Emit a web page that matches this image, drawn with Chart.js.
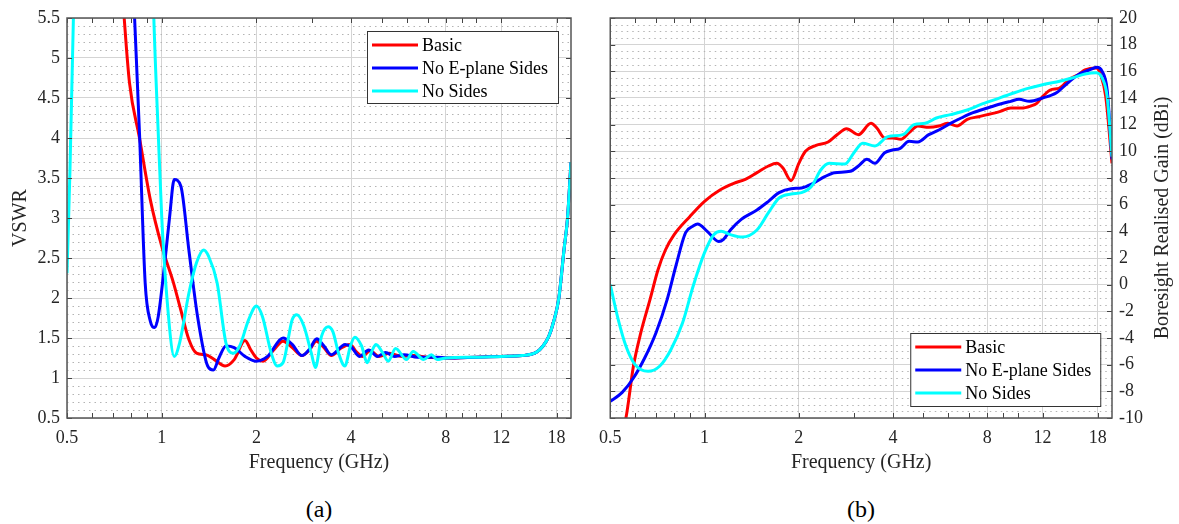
<!DOCTYPE html>
<html>
<head>
<meta charset="utf-8">
<script src="https://cdn.jsdelivr.net/npm/chart.js@4/dist/chart.umd.min.js"></script>
<style>
  body { margin: 0; background: #fff; width: 1179px; height: 524px; overflow: hidden; position: relative; font-family: "Liberation Serif", serif; }
  .panel { position: absolute; top: 0; }
  .cap { position: absolute; top: 496px; font: 24px "Liberation Serif", serif; color: #000; width: 100px; text-align: center; }
</style>
</head>
<body>
<div class="panel" style="left:0"><canvas id="vswr" width="590" height="480"></canvas></div>
<div class="panel" style="left:590px"><canvas id="gain" width="589" height="480"></canvas></div>
<div class="cap" style="left:269px">(a)</div>
<div class="cap" style="left:811px">(b)</div>
<script>
// ---- data ----
const seriesNames = ['Basic', 'No E-plane Sides', 'No Sides'];
const seriesColors = ['#ff0000', '#0000ff', '#00ffff'];
const xMajor = [0.5, 1, 2, 4, 8, 12, 18];
const xMinor = [0.6, 0.7, 0.8, 0.9, 3, 5, 6, 7, 9, 10];

// (a) VSWR
const basicF = [0.74, 0.76, 0.79, 0.85, 0.92, 1.0, 1.09, 1.15, 1.22, 1.29, 1.38, 1.47, 1.59, 1.70, 1.84, 1.92, 2.0, 2.1, 2.27, 2.43, 2.6, 2.79, 2.95, 3.1, 3.28, 3.46, 3.7, 3.97, 4.15, 4.35, 4.6, 4.9, 5.3, 5.8, 6.3, 7, 8, 10, 12, 14, 15.5, 16.3, 17, 17.6, 18.3, 19, 19.5, 20];
const basicV = [6.2, 5.5, 4.69, 4.0, 3.23, 2.65, 2.19, 1.85, 1.48, 1.31, 1.29, 1.23, 1.15, 1.23, 1.47, 1.35, 1.25, 1.21, 1.35, 1.46, 1.38, 1.28, 1.35, 1.46, 1.38, 1.28, 1.37, 1.42, 1.33, 1.27, 1.34, 1.27, 1.31, 1.27, 1.28, 1.26, 1.25, 1.26, 1.27, 1.28, 1.32, 1.4, 1.52, 1.7, 2.0, 2.6, 3.0, 3.7];

const eplaneF = [0.8, 0.82, 0.85, 0.886, 0.92, 0.95, 0.975, 1.02, 1.06, 1.096, 1.15, 1.22, 1.30, 1.40, 1.46, 1.52, 1.60, 1.70, 1.84, 2.0, 2.17, 2.43, 2.6, 2.79, 2.95, 3.11, 3.28, 3.46, 3.83, 4.0, 4.25, 4.55, 4.85, 5.15, 5.5, 5.9, 6.5, 7.5, 8, 10, 12, 14, 15.5, 16.3, 17, 17.6, 18.3, 19, 19.5, 20];
const eplaneV = [6.5, 5.5, 4.06, 2.19, 1.71, 1.63, 1.77, 2.4, 3.02, 3.48, 3.4, 2.6, 1.77, 1.15, 1.1, 1.25, 1.4, 1.38, 1.27, 1.21, 1.27, 1.5, 1.42, 1.28, 1.36, 1.49, 1.4, 1.29, 1.42, 1.39, 1.27, 1.35, 1.27, 1.32, 1.27, 1.29, 1.26, 1.26, 1.25, 1.26, 1.27, 1.28, 1.32, 1.4, 1.52, 1.7, 2.0, 2.6, 3.0, 3.7];

const nosidesF = [0.5, 0.511, 0.524, 0.53, 0.93, 0.944, 0.975, 1.0, 1.04, 1.096, 1.14, 1.22, 1.29, 1.36, 1.41, 1.50, 1.60, 1.69, 1.77, 1.89, 2.0, 2.09, 2.23, 2.33, 2.43, 2.6, 2.69, 2.83, 2.99, 3.08, 3.22, 3.38, 3.5, 3.65, 3.82, 3.98, 4.11, 4.32, 4.5, 4.65, 4.8, 5.05, 5.25, 5.54, 6.0, 6.3, 6.8, 7.2, 7.5, 8, 10, 12, 14, 15.5, 16.3, 17, 17.6, 18.3, 19, 19.5, 20];
const nosidesV = [2.31, 3.6, 5.5, 6.2, 6.5, 5.5, 4.06, 3.02, 1.98, 1.27, 1.44, 2.06, 2.44, 2.6, 2.52, 2.19, 1.44, 1.31, 1.4, 1.73, 1.9, 1.77, 1.31, 1.15, 1.19, 1.73, 1.79, 1.65, 1.31, 1.13, 1.52, 1.64, 1.58, 1.31, 1.15, 1.4, 1.51, 1.4, 1.19, 1.33, 1.42, 1.31, 1.21, 1.37, 1.23, 1.33, 1.23, 1.29, 1.23, 1.25, 1.26, 1.27, 1.28, 1.32, 1.4, 1.52, 1.7, 2.0, 2.6, 3.0, 3.7];

// (b) boresight realised gain
const gBasicF = [0.55, 0.561, 0.593, 0.626, 0.67, 0.71, 0.75, 0.80, 0.897, 1.0, 1.12, 1.24, 1.35, 1.47, 1.6, 1.7, 1.78, 1.89, 2.0, 2.1, 2.27, 2.48, 2.65, 2.84, 3.1, 3.4, 3.55, 3.76, 4.0, 4.23, 4.5, 4.8, 5.2, 5.6, 5.96, 6.4, 6.9, 7.5, 8.0, 8.8, 9.5, 10.3, 11.0, 11.5, 12, 12.7, 13.6, 14.6, 15.6, 16.4, 17.8, 18.4, 19.1, 20];
const gBasic = [-10.6, -10, -6.1, -3.6, -1.1, 1.1, 2.6, 3.75, 5.1, 6.25, 7.1, 7.6, 7.9, 8.4, 8.9, 9.1, 8.75, 7.8, 9.1, 10.0, 10.45, 10.7, 11.25, 11.7, 11.25, 12.1, 11.75, 11.0, 11.0, 10.9, 11.4, 11.9, 11.8, 11.9, 12.1, 11.9, 12.4, 12.6, 12.75, 13.0, 13.25, 13.25, 13.4, 13.6, 14.1, 14.6, 14.75, 15.4, 15.75, 16.1, 16.25, 15.75, 14.1, 9.1];

const gEplaneF = [0.5, 0.545, 0.593, 0.644, 0.7, 0.76, 0.81, 0.87, 0.92, 0.95, 1.02, 1.11, 1.15, 1.21, 1.31, 1.47, 1.6, 1.73, 1.89, 2.04, 2.22, 2.42, 2.6, 2.92, 3.1, 3.3, 3.5, 3.76, 3.98, 4.2, 4.5, 4.8, 5.2, 5.6, 6.1, 6.6, 7.2, 8.0, 8.8, 9.5, 10.1, 10.9, 12, 13.3, 14.4, 15.6, 16.9, 17.9, 18.6, 19.3, 20];
const gEplane = [-8.75, -8.1, -7.0, -5.5, -3.6, -1.1, 1.4, 3.9, 4.4, 4.55, 4.0, 3.24, 3.4, 4.1, 4.9, 5.6, 6.25, 6.9, 7.2, 7.25, 7.6, 8.1, 8.4, 8.5, 8.9, 9.4, 9.1, 9.9, 10.1, 10.2, 10.75, 10.7, 11.25, 11.6, 12.1, 12.5, 12.9, 13.25, 13.55, 13.75, 13.9, 13.75, 14.0, 14.4, 15.1, 15.75, 16.1, 16.3, 16.0, 14.6, 9.4];

const gNosidesF = [0.5, 0.53, 0.561, 0.6, 0.66, 0.72, 0.78, 0.85, 0.92, 1.0, 1.07, 1.13, 1.21, 1.32, 1.47, 1.6, 1.73, 1.89, 2.04, 2.2, 2.35, 2.5, 2.81, 3.0, 3.2, 3.5, 3.85, 4.3, 4.67, 5.06, 5.5, 6.1, 6.9, 7.6, 8.5, 9.5, 10.7, 12, 13.3, 14.9, 16.4, 17.8, 18.6, 19.3, 20];
const gNosides = [0, -2.6, -4.6, -6.0, -6.5, -6.1, -4.9, -2.9, -0.1, 2.4, 3.75, 4.0, 3.75, 3.57, 4.1, 5.4, 6.5, 6.8, 6.9, 7.4, 8.6, 9.1, 9.05, 9.9, 10.6, 10.4, 11.1, 11.25, 12.0, 12.1, 12.5, 12.75, 13.1, 13.5, 13.9, 14.3, 14.7, 15.0, 15.2, 15.5, 15.8, 15.9, 15.5, 14.1, 9.6];

// ---- helpers ----
const serif = '"Liberation Serif", "Times New Roman", serif';
Chart.defaults.font.family = serif;
Chart.defaults.font.size = 18;
Chart.defaults.color = '#262626';

function pts(f, v) {
  return f.map((x, i) => ({ x: x, y: v[i] }));
}

function makeSets(list) {
  return list.map((d, i) => ({
    label: seriesNames[i],
    data: pts(d[0], d[1]),
    borderColor: seriesColors[i],
    backgroundColor: seriesColors[i],
    borderWidth: 3,
    pointRadius: 0,
    cubicInterpolationMode: 'monotone',
    order: 3 - i
  }));
}

// matlab style: dotted minor grid, inward ticks, box, boxed legend, side title
const matlabLook = {
  id: 'matlab',
  beforeDatasetsDraw(chart, args, opts) {
    const { ctx, chartArea: a, scales: { y } } = chart;
    ctx.save();
    ctx.strokeStyle = '#b4b4b4';
    ctx.lineWidth = 1;
    ctx.setLineDash([1.5, 4]);
    const n = Math.round((y.max - y.min) / opts.yMinor);
    for (let k = 1; k < n; k++) {
      if (k % opts.minorPerMajor === 0) continue;
      const py = Math.round(y.getPixelForValue(y.min + k * opts.yMinor)) + 0.5;
      ctx.beginPath();
      ctx.moveTo(a.left, py);
      ctx.lineTo(a.right, py);
      ctx.stroke();
    }
    ctx.restore();
  },
  afterDraw(chart, args, opts) {
    const { ctx, chartArea: a, scales: { x, y } } = chart;
    ctx.save();
    ctx.strokeStyle = '#444';
    ctx.lineWidth = 1;
    // tick marks pointing inwards
    xMajor.concat(xMinor).forEach(v => {
      const px = Math.round(x.getPixelForValue(v)) + 0.5;
      ctx.beginPath();
      ctx.moveTo(px, a.bottom); ctx.lineTo(px, a.bottom - 5);
      ctx.moveTo(px, a.top); ctx.lineTo(px, a.top + 5);
      ctx.stroke();
    });
    y.ticks.forEach(t => {
      const py = Math.round(y.getPixelForValue(t.value)) + 0.5;
      ctx.beginPath();
      ctx.moveTo(a.left, py); ctx.lineTo(a.left + 5, py);
      ctx.moveTo(a.right, py); ctx.lineTo(a.right - 5, py);
      ctx.stroke();
    });
    // box
    ctx.strokeStyle = '#555';
    ctx.lineWidth = 1.5;
    ctx.strokeRect(a.left, a.top, a.right - a.left, a.bottom - a.top);

    // legend
    const L = opts.legend;
    const bx = a.left + L.dx, by = a.top + L.dy;
    ctx.fillStyle = '#fff';
    ctx.fillRect(bx, by, L.w, L.h);
    ctx.strokeStyle = '#333';
    ctx.lineWidth = 1;
    ctx.strokeRect(bx + 0.5, by + 0.5, L.w, L.h);
    ctx.font = '18px ' + serif;
    ctx.textBaseline = 'middle';
    ctx.textAlign = 'left';
    chart.data.datasets.forEach((ds, i) => {
      const ry = by + 14 + i * 23;
      ctx.strokeStyle = ds.borderColor;
      ctx.lineWidth = 3;
      ctx.beginPath();
      ctx.moveTo(bx + 5, ry); ctx.lineTo(bx + 51, ry);
      ctx.stroke();
      ctx.fillStyle = '#000';
      ctx.fillText(ds.label, bx + 55, ry + 1);
    });

    // rotated side title (reads bottom to top)
    if (opts.sideTitle) {
      ctx.translate(opts.sideTitle.x, (a.top + a.bottom) / 2);
      ctx.rotate(-Math.PI / 2);
      ctx.font = '20px ' + serif;
      ctx.fillStyle = '#262626';
      ctx.textAlign = 'center';
      ctx.fillText(opts.sideTitle.text, 0, 0);
    }
    ctx.restore();
  }
};

function xScale() {
  return {
    type: 'logarithmic',
    min: 0.5,
    max: 20,
    afterBuildTicks: s => { s.ticks = xMajor.map(v => ({ value: v })); },
    afterFit: s => { s.height = 62; },
    grid: { color: '#d4d4d4', drawTicks: false },
    border: { display: false },
    ticks: { autoSkip: false, maxRotation: 0, padding: 9, callback: v => String(v) },
    title: { display: true, text: 'Frequency (GHz)', font: { size: 20 }, padding: { top: 0, bottom: 5 } }
  };
}

function draw() {
  new Chart(document.getElementById('vswr'), {
    type: 'line',
    data: { datasets: makeSets([[basicF, basicV], [eplaneF, eplaneV], [nosidesF, nosidesV]]) },
    options: {
      responsive: false,
      animation: false,
      devicePixelRatio: 1,
      layout: { padding: { top: 18, right: 19, left: 0, bottom: 0 } },
      scales: {
        x: xScale(),
        y: {
          min: 0.5, max: 5.5,
          afterFit: s => { s.width = 67; },
          grid: { color: '#d4d4d4', drawTicks: false },
          border: { display: false },
          ticks: { stepSize: 0.5, padding: 7, callback: v => String(+v.toFixed(2)) },
          title: { display: true, text: 'VSWR', font: { size: 20 }, padding: { top: 9, bottom: 0 } }
        }
      },
      plugins: {
        legend: { display: false },
        tooltip: { enabled: false },
        matlab: { yMinor: 0.1, minorPerMajor: 5, legend: { dx: 300, dy: 13, w: 191, h: 72 } }
      }
    },
    plugins: [matlabLook]
  });

  new Chart(document.getElementById('gain'), {
    type: 'line',
    data: { datasets: makeSets([[gBasicF, gBasic], [gEplaneF, gEplane], [gNosidesF, gNosides]]) },
    options: {
      responsive: false,
      animation: false,
      devicePixelRatio: 1,
      layout: { padding: { top: 18, right: 0, left: 19, bottom: 0 } },
      scales: {
        x: xScale(),
        y: {
          position: 'right',
          min: -10, max: 20,
          afterFit: s => { s.width = 67; },
          grid: { color: '#d4d4d4', drawTicks: false },
          border: { display: false },
          ticks: { stepSize: 2, padding: 7, callback: v => String(+v.toFixed(2)) },
          title: { display: false }
        }
      },
      plugins: {
        legend: { display: false },
        tooltip: { enabled: false },
        matlab: {
          yMinor: 0.5, minorPerMajor: 4,
          legend: { dx: 300, dy: 315, w: 190, h: 73 },
          sideTitle: { x: 573, text: 'Boresight Realised Gain (dBi)' }
        }
      }
    },
    plugins: [matlabLook]
  });
}

// make sure the serif face is ready before the canvases paint text
Promise.all([
  document.fonts.load('18px "Liberation Serif"'),
  document.fonts.load('20px "Liberation Serif"')
]).then(draw, draw);
</script>
</body>
</html>
